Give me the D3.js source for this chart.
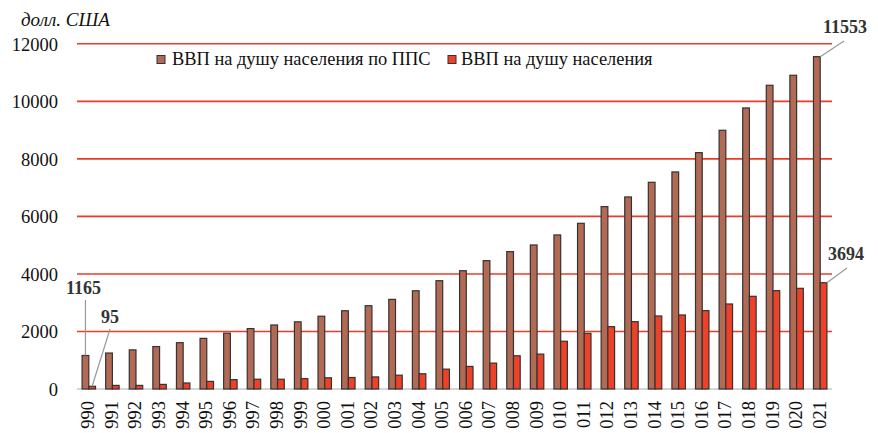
<!DOCTYPE html>
<html><head><meta charset="utf-8">
<script src="https://cdn.jsdelivr.net/npm/d3@7"></script>
<style>body{margin:0;background:#fff}svg{display:block}text{font-family:"Liberation Serif","Times New Roman",serif}</style>
</head><body>
<script>
const years = d3.range(1990, 2022);
const tickLabels = ["990","991","992","993","994","995","996","997","998","999","000","001","002","003","004","005","006","007","008","009","010","011","012","013","014","015","016","017","018","019","020","021"];
const gdpPPP = [1165,1250,1360,1475,1610,1760,1940,2100,2225,2335,2530,2720,2895,3115,3415,3765,4112,4462,4775,5007,5355,5760,6340,6676,7186,7545,8217,8994,9770,10558,10906,11553];
const gdpNom = [95,125,125,160,210,265,325,340,340,360,390,400,420,480,530,690,785,900,1155,1213,1660,1935,2167,2341,2538,2573,2724,2955,3222,3419,3500,3694];
const seriesNames = ["ВВП на душу населения по ППС","ВВП на душу населения"];
const yTicks = [0,2000,4000,6000,8000,10000,12000];
const colors = ["#b36a55","#ee4128"];

const W = 878, H = 433;
const svg = d3.select("body").append("svg").attr("width", W).attr("height", H);
const x0 = d3.scaleBand().domain(years).range([77, 832]).paddingInner(0.43).paddingOuter(0.215);
const x1 = d3.scaleBand().domain([0,1]).range([0, x0.bandwidth()]);
const y = d3.scaleLinear().domain([0,12000]).range([389, 43.8]);

// gridlines
svg.append("g").selectAll("line").data(yTicks.filter(d=>d>0)).join("line")
  .attr("x1",77).attr("x2",832).attr("y1",d=>y(d)).attr("y2",d=>y(d))
  .attr("stroke","#ee3b26").attr("stroke-width",1.6);
svg.append("line").attr("x1",77).attr("x2",832).attr("y1",y(0)).attr("y2",y(0))
  .attr("stroke","#c8c8c8").attr("stroke-width",1.3);

// y axis
const yAxis = svg.append("g").attr("transform","translate(70,0)")
  .call(d3.axisLeft(y).tickValues(yTicks).tickSize(0).tickPadding(12).tickFormat(d3.format("d")));
yAxis.select(".domain").remove();
yAxis.attr("font-family",'"Liberation Serif",serif');
yAxis.selectAll("text").attr("font-size",18.5).attr("fill","#111").attr("dy","0.35em");

// x axis
const xAxis = svg.append("g").attr("transform",`translate(0,${y(0)})`)
  .call(d3.axisBottom(x0).tickSize(0).tickFormat((d,i)=>tickLabels[i]));
xAxis.select(".domain").remove();
xAxis.attr("font-family",'"Liberation Serif",serif');
xAxis.selectAll("text").attr("font-size",18.5).attr("fill","#111")
  .attr("text-anchor","end").attr("transform","rotate(-90)")
  .attr("x",-12).attr("y",-1).attr("dy","0.35em");

// bars
const seriesData = [gdpPPP, gdpNom];
seriesData.forEach((vals,s)=>{
  svg.append("g").selectAll("rect").data(vals).join("rect")
    .attr("x",(d,i)=>x0(years[i])+x1(s)).attr("width",x1.bandwidth())
    .attr("y",d=>y(d)).attr("height",d=>y(0)-y(d))
    .attr("fill",colors[s]).attr("stroke","#333").attr("stroke-width",1.2);
});

// title
svg.append("text").attr("x",21).attr("y",26).attr("font-size",19).attr("font-style","italic")
  .attr("fill","#111").text("долл. США");

// legend
const leg = [{x:157, tx:172},{x:448, tx:461}];
leg.forEach((l,i)=>{
  svg.append("rect").attr("x",l.x).attr("y",55.5).attr("width",8).attr("height",8)
    .attr("fill",colors[i]).attr("stroke","#333").attr("stroke-width",1);
  svg.append("text").attr("x",l.tx).attr("y",65).attr("font-size",18.4).attr("fill","#111").text(seriesNames[i]);
});

// annotations
function ann(text, tx, ty, lx1, ly1, lx2, ly2){
  svg.append("line").attr("x1",lx1).attr("y1",ly1).attr("x2",lx2).attr("y2",ly2)
    .attr("stroke","#999").attr("stroke-width",1.2);
  svg.append("text").attr("x",tx).attr("y",ty).attr("font-size",18).attr("font-weight","bold")
    .attr("fill","#333").text(text);
}
const b0 = x0(years[0]), bl = x0(years[years.length-1]);
ann(String(gdpPPP[0]), 66, 294, b0+x1(0)+x1.bandwidth()/2, 300, b0+x1(0)+x1.bandwidth()/2, y(gdpPPP[0]));
ann(String(gdpNom[0]), 101, 323, 110, 329, b0+x1(1)+x1.bandwidth()/2, y(gdpNom[0]));
ann(String(gdpPPP[31]), 823, 33, 844, 41, bl+x1(0)+x1.bandwidth(), y(gdpPPP[31]));
ann(String(gdpNom[31]), 828, 260, 847, 268, bl+x1(1)+x1.bandwidth(), y(gdpNom[31]));
</script>
</body></html>
